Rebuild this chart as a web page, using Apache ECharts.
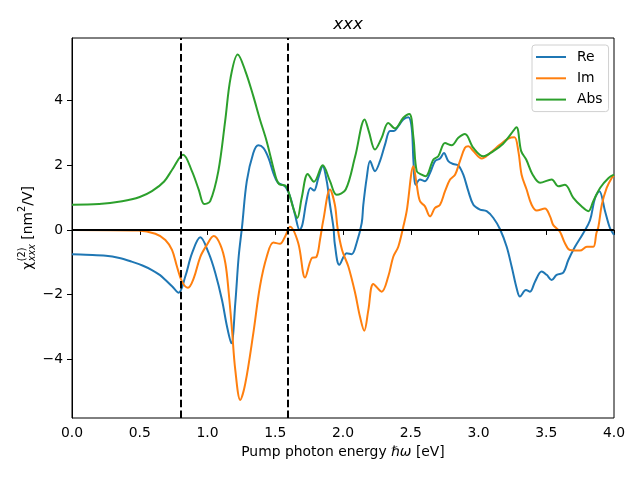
<!DOCTYPE html>
<html>
<head>
<meta charset="utf-8">
<script src="https://cdn.jsdelivr.net/npm/echarts@6/dist/echarts.min.js"></script>
<style>html,body{margin:0;padding:0;background:#fff}#c{width:640px;height:480px}</style>
</head>
<body>
<div id="c"></div>
<script>
// ---- data ----
const reX = [0.00,0.10,0.25,0.35,0.44,0.52,0.59,0.65,0.69,0.74,0.787,0.836,0.886,0.947,1.009,1.058,1.107,1.144,1.176,1.205,1.23,1.255,1.29,1.338,1.375,1.412,1.45,1.486,1.52,1.572,1.609,1.646,1.68,1.70,1.73,1.76,1.786,1.818,1.85,1.88,1.904,1.93,1.94,1.973,2.027,2.064,2.10,2.138,2.15,2.175,2.20,2.236,2.273,2.31,2.347,2.376,2.408,2.445,2.482,2.507,2.52,2.537,2.568,2.605,2.642,2.679,2.716,2.745,2.777,2.814,2.851,2.888,2.925,2.962,3.011,3.06,3.11,3.159,3.208,3.245,3.282,3.306,3.35,3.38,3.417,3.466,3.503,3.54,3.577,3.626,3.663,3.712,3.773,3.823,3.86,3.892,3.934,3.97,4.00];
const reY = [-0.75,-0.77,-0.80,-0.87,-0.98,-1.10,-1.24,-1.40,-1.55,-1.75,-1.94,-1.44,-0.72,-0.23,-0.72,-1.34,-2.17,-2.99,-3.51,-2.27,-0.83,0.10,1.51,2.38,2.62,2.54,2.23,1.76,1.46,1.35,1.04,0.47,0.00,0.16,0.89,1.30,1.22,1.61,1.97,1.51,0.78,0.06,-0.45,-1.08,-0.72,-0.75,-0.41,0.21,0.78,1.61,2.13,1.82,2.13,2.64,3.06,3.06,3.21,3.42,3.49,3.16,2.13,1.40,1.56,1.51,1.76,2.13,2.21,2.38,2.13,2.04,2.00,1.71,1.20,0.78,0.63,0.58,0.37,0.02,-0.52,-1.14,-1.81,-2.06,-1.86,-1.91,-1.60,-1.29,-1.39,-1.55,-1.39,-1.32,-0.93,-0.52,-0.10,0.30,0.99,1.20,0.58,0.06,-0.15];

const imX = [0.00,0.49,0.615,0.689,0.738,0.775,0.812,0.856,0.898,0.947,0.996,1.046,1.095,1.132,1.157,1.181,1.205,1.242,1.279,1.338,1.387,1.437,1.486,1.535,1.572,1.609,1.67,1.72,1.768,1.805,1.83,1.855,1.904,1.94,1.96,1.993,2.04,2.09,2.125,2.157,2.187,2.224,2.285,2.334,2.371,2.408,2.445,2.47,2.52,2.544,2.568,2.605,2.642,2.679,2.716,2.753,2.79,2.827,2.863,2.90,2.925,2.962,3.024,3.085,3.159,3.22,3.265,3.294,3.318,3.355,3.392,3.43,3.49,3.528,3.552,3.60,3.638,3.675,3.749,3.80,3.847,3.87,3.885,3.91,3.946,3.983,4.00];
const imY = [0.00,-0.02,-0.12,-0.31,-0.62,-1.14,-1.60,-1.79,-1.50,-0.83,-0.46,-0.19,-0.46,-1.03,-1.96,-3.10,-4.33,-5.26,-4.75,-3.20,-1.75,-0.83,-0.39,-0.43,-0.21,0.10,-0.41,-1.47,-0.88,-0.83,-0.31,0.31,1.25,0.78,0.06,-0.62,-1.14,-1.96,-2.68,-3.12,-2.48,-1.67,-1.91,-1.44,-0.83,-0.52,0.10,0.58,1.97,1.40,0.89,0.73,0.42,0.68,0.78,1.20,1.56,1.71,2.13,2.54,2.59,2.44,2.21,2.38,2.64,2.83,2.87,2.44,1.71,1.25,0.78,0.60,0.66,0.42,0.15,-0.05,-0.41,-0.62,-0.64,-0.52,-0.52,-0.10,0.10,0.78,1.30,1.61,1.68];

const absX = [0.00,0.20,0.37,0.50,0.59,0.68,0.74,0.82,0.885,0.935,0.976,1.02,1.08,1.13,1.17,1.223,1.28,1.338,1.387,1.437,1.486,1.51,1.535,1.572,1.596,1.633,1.663,1.695,1.74,1.786,1.85,1.904,1.953,2.02,2.09,2.16,2.19,2.236,2.285,2.334,2.384,2.445,2.49,2.52,2.544,2.58,2.61,2.667,2.703,2.753,2.802,2.851,2.90,2.962,3.036,3.11,3.18,3.24,3.28,3.315,3.352,3.40,3.454,3.54,3.59,3.638,3.70,3.76,3.81,3.847,3.897,3.96,4.00];
const absY = [0.78,0.80,0.89,1.02,1.20,1.50,1.87,2.33,1.82,1.25,0.80,0.89,1.82,3.36,4.70,5.43,4.91,4.14,3.42,2.74,1.92,1.56,1.40,1.38,1.20,0.68,0.37,0.99,1.73,1.49,2.00,1.51,1.09,1.25,2.28,3.42,3.06,2.49,2.85,3.31,3.14,3.47,3.59,2.85,1.82,1.71,1.66,2.18,2.28,2.69,2.62,2.85,2.97,2.54,2.28,2.44,2.66,2.97,3.18,2.44,2.18,1.71,1.46,1.56,1.35,1.40,0.99,0.73,0.58,0.89,1.30,1.61,1.71];

const seriesNames = ['Re','Im','Abs'];
const xTicks = [0,0.5,1.0,1.5,2.0,2.5,3.0,3.5,4.0];
const yTicks = [-4,-2,0,2,4];
const vLines = [0.8, 1.587];
const xRange = [0, 4];
const yRange = [-5.82, 5.94];

// ---- chart ----
const FONT = 'DejaVu Sans';
const zip = (a,b) => a.map((v,i)=>[v,b[i]]);
const chart = echarts.init(document.getElementById('c'), null, {renderer:'canvas'});

// y-axis label laid out with measured text widths
const ctx = document.createElement('canvas').getContext('2d');
function w(t, f){ ctx.font = f; return ctx.measureText(t).width; }
const fBig = '13.9px "DejaVu Sans"';
const fSmall = '9.7px "DejaVu Sans"';
const fSmallI = 'italic 9.7px "DejaVu Sans"';
const parts = [];
let cx = 0;
parts.push({t:'χ', x:cx, dy:0, f:fBig}); cx += w('χ', fBig) + 0.5;
const supW = w('(2)', fSmall), subW = w('xxx', fSmallI);
parts.push({t:'(2)', x:cx, dy:-6, f:fSmall});
parts.push({t:'xxx', x:cx, dy:4, f:fSmallI});
cx += Math.max(supW, subW);
parts.push({t:' [nm', x:cx, dy:0, f:fBig}); cx += w(' [nm', fBig);
parts.push({t:'2', x:cx, dy:-5.5, f:fSmall}); cx += w('2', fSmall);
parts.push({t:'/V]', x:cx, dy:0, f:fBig}); cx += w('/V]', fBig);
const total = cx;
const ylabelChildren = parts.map(p => ({
  type:'text',
  style:{text:p.t, x:p.x - total/2, y:p.dy, font:p.f, fill:'#000', textAlign:'left', textVerticalAlign:'middle'}
}));

const colors = ['#1f77b4','#ff7f0e','#2ca02c'];
const dataSets = [zip(reX,reY), zip(imX,imY), zip(absX,absY)];

const series = seriesNames.map((n,i)=>({
  name:n, type:'line', data:dataSets[i], symbol:'none', showSymbol:false, smooth:0.35,
  lineStyle:{color:colors[i], width:2}, itemStyle:{color:colors[i]}, z:2
}));
series.push({
  type:'line', data:[], silent:true, z:5,
  markLine:{
    silent:true, symbol:'none', animation:false, label:{show:false},
    data:[
      {yAxis:0, lineStyle:{color:'#000', width:2, type:'solid'}},
      ...vLines.map(v=>({xAxis:v, lineStyle:{color:'#000', width:2, type:[7.5,3.3]}}))
    ]
  }
});

chart.setOption({
  animation:false,
  backgroundColor:'#fff',
  title:{text:'xxx', left:343, top:11, textAlign:'center',
    textStyle:{fontFamily:FONT, fontStyle:'italic', fontWeight:'normal', fontSize:16.7, color:'#000'}},
  legend:{
    data:seriesNames, orient:'vertical', left:532, top:45,
    icon:'rect', itemWidth:30, itemHeight:2, itemGap:7.3,
    padding:[5,6,5,4],
    backgroundColor:'rgba(255,255,255,0.8)', borderColor:'#d0d0d0', borderWidth:1, borderRadius:3,
    textStyle:{fontFamily:FONT, fontSize:13.9, lineHeight:14, color:'#000', padding:[0,0,0,6]}
  },
  grid:{left:72, right:26, top:38, bottom:62, show:true, borderColor:'#000', borderWidth:1, backgroundColor:'transparent'},
  xAxis:{
    type:'value', min:xRange[0], max:xRange[1], interval:0.5,
    name:'{a|Pump photon energy }{i|ℏω}{a| [eV]}', nameLocation:'middle', nameGap:27,
    nameTextStyle:{rich:{a:{fontFamily:FONT, fontSize:13.9, color:'#000'}, i:{fontFamily:FONT, fontSize:13.9, fontStyle:'italic', color:'#000'}}},
    axisLine:{show:true, lineStyle:{color:'#000', width:1}},
    axisTick:{show:true, inside:false, length:5, lineStyle:{color:'#000', width:1}, customValues:xTicks},
    axisLabel:{fontFamily:FONT, fontSize:13.9, color:'#000', margin:8, customValues:xTicks, formatter:v=>v.toFixed(1)},
    splitLine:{show:false}
  },
  yAxis:{
    type:'value', min:yRange[0], max:yRange[1],
    axisLine:{show:true, lineStyle:{color:'#000', width:1}},
    axisTick:{show:true, inside:false, length:5, lineStyle:{color:'#000', width:1}, customValues:yTicks},
    axisLabel:{fontFamily:FONT, fontSize:13.9, color:'#000', margin:9, customValues:yTicks,
      formatter:v=> (v<0 ? '\u2212'+Math.abs(v) : String(v))},
    splitLine:{show:false}
  },
  graphic:[{
    type:'group', x:28, y:228, rotation:Math.PI/2, children:ylabelChildren
  }],
  series:series
});
</script>
</body>
</html>
